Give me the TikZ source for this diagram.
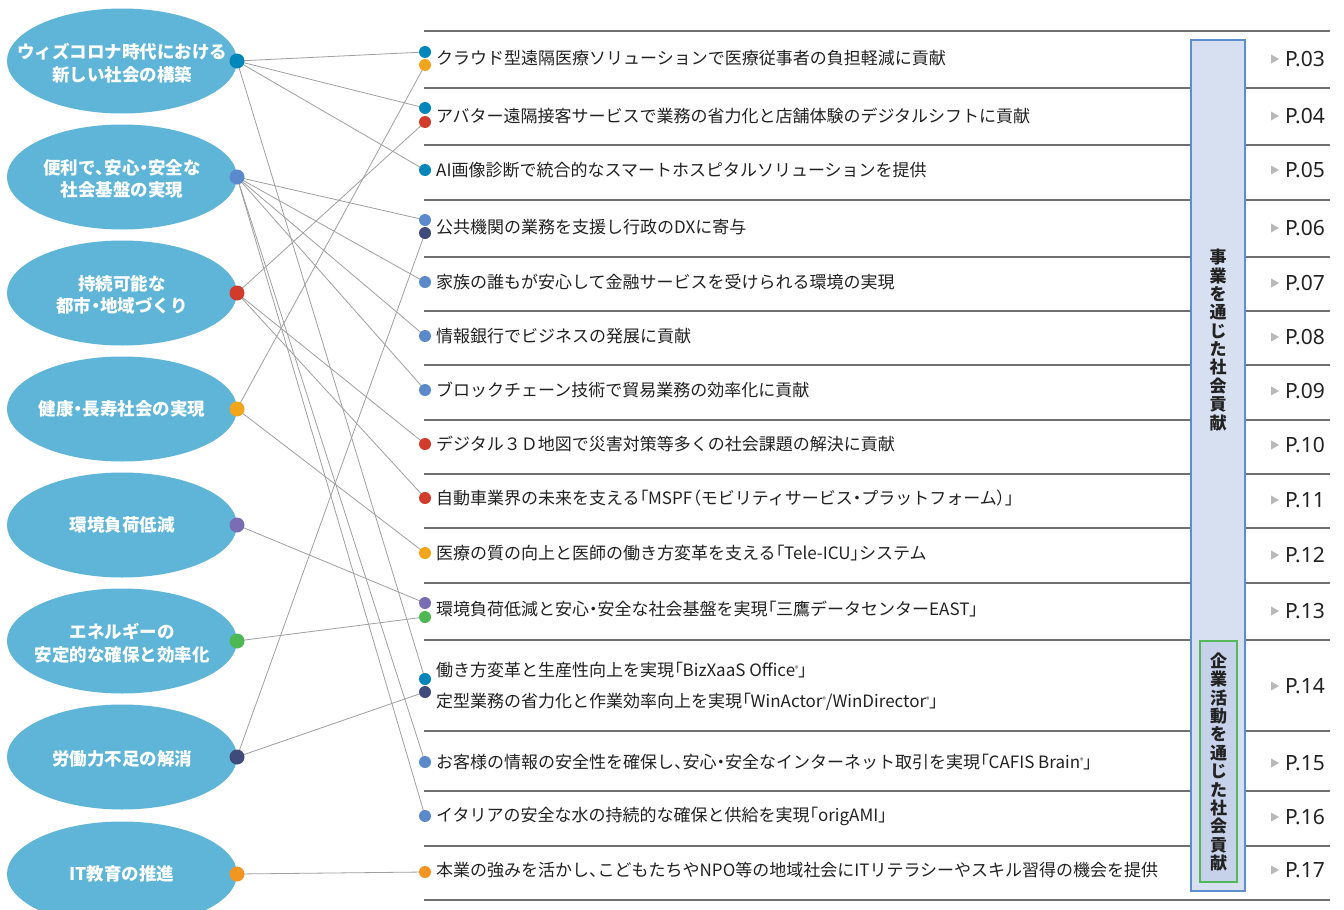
\documentclass[tikz,border=0pt]{standalone}
\usepackage{fontspec}
\setmainfont{Noto Sans CJK JP}
\newfontfamily\jpp{Noto Sans CJK JP}[RawFeature=+palt]
\newfontfamily\pfont{Noto Sans}
\usetikzlibrary{shapes.geometric}
\definecolor{ellc}{HTML}{5FB5D8}
\definecolor{cA}{HTML}{0086B8}
\definecolor{cB}{HTML}{5A8ACB}
\definecolor{cC}{HTML}{D23A2A}
\definecolor{cD}{HTML}{F0A51A}
\definecolor{cE}{HTML}{7A6DB3}
\definecolor{cF}{HTML}{4DB854}
\definecolor{cG}{HTML}{3F4B7A}
\definecolor{cH}{HTML}{F39522}
\definecolor{txt}{HTML}{222222}
\definecolor{sep}{HTML}{707070}
\definecolor{boxfill}{HTML}{D6E0F0}
\definecolor{boxline}{HTML}{5C8FD0}
\definecolor{gboxfill}{HTML}{C6D2EA}
\definecolor{gboxline}{HTML}{52B85A}
\newcommand\regm{\raisebox{0.55ex}{\fontsize{7}{7}\selectfont ®}}
\newcommand\kL{{\jpp 「}}
\newcommand\kR{{\jpp 」}}
\newcommand\pL{{\jpp （}}
\newcommand\pR{{\jpp ）}}
\newcommand\tn{{\jpp 、}}
\newcommand\nk{{\jpp ・}}
\tikzset{
  topic/.style={ellipse, fill=ellc, minimum width=230, minimum height=105, inner sep=0pt},
  topictext/.style={text=white, align=center, inner sep=0pt, font=\bfseries\fontsize{17.5}{22.5}\selectfont},
  ldot/.style={circle, fill=#1, minimum size=15, inner sep=0pt},
  rdot/.style={circle, fill=#1, minimum size=12, inner sep=0pt},
  conn/.style={draw=gray!75, line width=0.8pt},
  rowtext/.style={anchor=west, text=txt, inner sep=0pt, font=\fontsize{17}{20}\selectfont},
  pagetext/.style={anchor=west, text=txt, inner sep=0pt, font=\pfont\fontsize{21}{22}\selectfont},
  seprule/.style={draw=sep, line width=1.1pt},
  vtext/.style={align=center, text=txt, inner sep=0pt, font=\bfseries\fontsize{17}{18.35}\selectfont}
}
\begin{document}
\begin{tikzpicture}[x=1pt,y=-1pt]
\clip (0,0) rectangle (1344,910);
\fill[white] (0,0) rectangle (1344,910);

% topic ellipses
\node[topic] (t1) at (122,61) {};
\node[topic] (t2) at (122,177) {};
\node[topic] (t3) at (122,293) {};
\node[topic] (t4) at (122,409) {};
\node[topic] (t5) at (122,525) {};
\node[topic] (t6) at (122,641) {};
\node[topic] (t7) at (122,757) {};
\node[topic] (t8) at (122,874) {};
\node[topictext] (tt1) at (122,63) {ウィズコロナ時代における\\新しい社会の構築};
\node[topictext] (tt2) at (122,179) {便利で\tn 安心\nk 安全な\\社会基盤の実現};
\node[topictext] (tt3) at (122,295) {持続可能な\\都市\nk 地域づくり};
\node[topictext] (tt4) at (122,409) {健康\nk 長寿社会の実現};
\node[topictext] (tt5) at (122,525) {環境負荷低減};
\node[topictext] (tt6) at (122,643) {エネルギーの\\安定的な確保と効率化};
\node[topictext] (tt7) at (122,759) {労働力不足の解消};
\node[topictext] (tt8) at (122,874) {IT教育の推進};

% dot coordinates
\coordinate (l1) at (237,61);
\coordinate (l2) at (237,177);
\coordinate (l3) at (237,293);
\coordinate (l4) at (237,409);
\coordinate (l5) at (237,525);
\coordinate (l6) at (237,641);
\coordinate (l7) at (237,757);
\coordinate (l8) at (237,874);

\coordinate (r1a) at (425,52);
\coordinate (r1b) at (425,65);
\coordinate (r2a) at (425,108);
\coordinate (r2b) at (425,122);
\coordinate (r3) at (425,170);
\coordinate (r4a) at (425,220);
\coordinate (r4b) at (425,233);
\coordinate (r5) at (425,282);
\coordinate (r6) at (425,336);
\coordinate (r7) at (425,390);
\coordinate (r8) at (425,444);
\coordinate (r9) at (425,498);
\coordinate (r10) at (425,553);
\coordinate (r11a) at (425,603);
\coordinate (r11b) at (425,617);
\coordinate (r14a) at (425,679);
\coordinate (r14b) at (425,692);
\coordinate (r15) at (425,762);
\coordinate (r16) at (425,816);
\coordinate (r17) at (425,872);

% separators
\foreach \yy in {31,88,145,200,257,311,365,420,474,528,583,640,731,791,846,900}
  \draw[seprule] (424,\yy) -- (1330,\yy);

% connectors
\draw[conn] (l1) -- (r1a);
\draw[conn] (l1) -- (r2a);
\draw[conn] (l1) -- (r3);
\draw[conn] (l1) -- (r14a);
\draw[conn] (l2) -- (r4a);
\draw[conn] (l2) -- (r5);
\draw[conn] (l2) -- (r6);
\draw[conn] (l2) -- (r7);
\draw[conn] (l2) -- (r15);
\draw[conn] (l2) -- (r16);
\draw[conn] (l3) -- (r2b);
\draw[conn] (l3) -- (r8);
\draw[conn] (l3) -- (r9);
\draw[conn] (l4) -- (r1b);
\draw[conn] (l4) -- (r10);
\draw[conn] (l5) -- (r11a);
\draw[conn] (l6) -- (r11b);
\draw[conn] (l7) -- (r4b);
\draw[conn] (l7) -- (r14b);
\draw[conn] (l8) -- (r17);

% left dots
\node[ldot=cA] (L1) at (l1) {};
\node[ldot=cB] (L2) at (l2) {};
\node[ldot=cC] (L3) at (l3) {};
\node[ldot=cD] (L4) at (l4) {};
\node[ldot=cE] (L5) at (l5) {};
\node[ldot=cF] (L6) at (l6) {};
\node[ldot=cG] (L7) at (l7) {};
\node[ldot=cH] (L8) at (l8) {};

% right dots
\node[rdot=cA] (R1a) at (r1a) {};
\node[rdot=cD] (R1b) at (r1b) {};
\node[rdot=cA] (R2a) at (r2a) {};
\node[rdot=cC] (R2b) at (r2b) {};
\node[rdot=cA] (R3) at (r3) {};
\node[rdot=cB] (R4a) at (r4a) {};
\node[rdot=cG] (R4b) at (r4b) {};
\node[rdot=cB] (R5) at (r5) {};
\node[rdot=cB] (R6) at (r6) {};
\node[rdot=cB] (R7) at (r7) {};
\node[rdot=cC] (R8) at (r8) {};
\node[rdot=cC] (R9) at (r9) {};
\node[rdot=cD] (R10) at (r10) {};
\node[rdot=cE] (R11a) at (r11a) {};
\node[rdot=cF] (R11b) at (r11b) {};
\node[rdot=cA] (R14a) at (r14a) {};
\node[rdot=cG] (R14b) at (r14b) {};
\node[rdot=cB] (R15) at (r15) {};
\node[rdot=cB] (R16) at (r16) {};
\node[rdot=cH] (R17) at (r17) {};

% row texts
\node[rowtext] (x1) at (436,58) {クラウド型遠隔医療ソリューションで医療従事者の負担軽減に貢献};
\node[rowtext] (x2) at (436,116) {アバター遠隔接客サービスで業務の省力化と店舗体験のデジタルシフトに貢献};
\node[rowtext] (x3) at (436,170) {AI画像診断で統合的なスマートホスピタルソリューションを提供};
\node[rowtext] (x4) at (436,227) {公共機関の業務を支援し行政のDXに寄与};
\node[rowtext] (x5) at (436,282) {家族の誰もが安心して金融サービスを受けられる環境の実現};
\node[rowtext] (x6) at (436,336) {情報銀行でビジネスの発展に貢献};
\node[rowtext] (x7) at (436,390) {ブロックチェーン技術で貿易業務の効率化に貢献};
\node[rowtext] (x8) at (436,444) {デジタル３Ｄ地図で災害対策等多くの社会課題の解決に貢献};
\node[rowtext] (x9) at (436,498) {自動車業界の未来を支える\kL MSPF\pL モビリティサービス\nk プラットフォーム\pR\kR};
\node[rowtext] (x10) at (436,553) {医療の質の向上と医師の働き方変革を支える\kL Tele-ICU\kR システム};
\node[rowtext] (x11) at (436,609) {環境負荷低減と安心\nk 安全な社会基盤を実現\kL 三鷹データセンターEAST\kR};
\node[rowtext] (x14a) at (436,670) {働き方変革と生産性向上を実現\kL BizXaaS Office\regm\kR};
\node[rowtext] (x14b) at (436,702) {定型業務の省力化と作業効率向上を実現\kL WinActor\regm/WinDirector\regm\kR};
\node[rowtext] (x15) at (436,762) {お客様の情報の安全性を確保し\tn 安心\nk 安全なインターネット取引を実現\kL CAFIS Brain\regm\kR};
\node[rowtext] (x16) at (436,816) {イタリアの安全な水の持続的な確保と供給を実現\kL origAMI\kR};
\node[rowtext] (x17) at (436,870) {本業の強みを活かし\tn こどもたちやNPO等の地域社会にITリテラシーやスキル習得の機会を提供};

% vertical boxes
\draw[fill=boxfill, draw=boxline, line width=2pt] (1191,40) rectangle (1245,891);
\node[vtext] (v1) at (1218,340) {事\\業\\を\\通\\じ\\た\\社\\会\\貢\\献};
\draw[fill=gboxfill, draw=gboxline, line width=2pt] (1200,641) rectangle (1237,882);
\node[vtext] (v2) at (1218.5,762) {企\\業\\活\\動\\を\\通\\じ\\た\\社\\会\\貢\\献};

% page labels
\foreach \yy/\pp in {59/03,116/04,170/05,228/06,283/07,337/08,391/09,445/10,500/11,555/12,611/13,686/14,763/15,817/16,870/17}{
  \fill[gray!55] (1271,\yy-4.5) -- (1271,\yy+4.5) -- (1279,\yy) -- cycle;
  \node[pagetext] (p\pp) at (1285,\yy) {P.\pp};
}
\end{tikzpicture}
\end{document}
